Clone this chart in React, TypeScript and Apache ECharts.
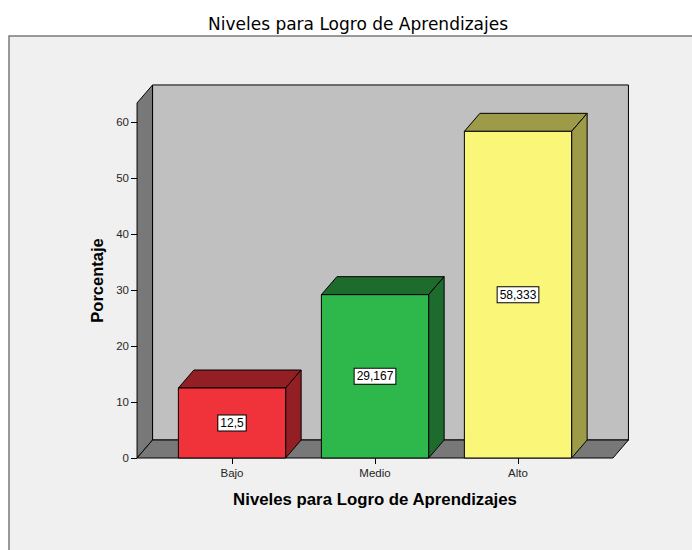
import React, { useEffect, useRef } from 'react';
import * as echarts from 'echarts';

const TITLE = 'Niveles para Logro de Aprendizajes';
const X_NAME = 'Niveles para Logro de Aprendizajes';
const Y_NAME = 'Porcentaje';
const CATEGORIES = ['Bajo', 'Medio', 'Alto'];
const PERCENTAGES = [12.5, 29.167, 58.333];
const Y_MIN = 0;
const Y_MAX = 60;
const Y_INTERVAL = 10;
const WALL_TOP_VALUE = 63.4;

const FRONT_COLORS = ['#f0323a', '#2eb84b', '#faf677'];
const SHADE_COLORS = ['#931f24', '#1d6b2d', '#9d9a48'];

const DX = 15.5;
const DY = -18;
const BAR_RATIO = 0.75;
const FLOOR_PAD_RATIO = 0.164;

const SANS = '"Liberation Sans", Arial, sans-serif';

export default function App() {
  const ref = useRef<HTMLDivElement>(null);
  useEffect(() => {
    if (!ref.current) return;
    const chart = echarts.init(ref.current, null, { renderer: 'svg' });
    const option: any = {
      animation: false,
      backgroundColor: '#ffffff',
      title: {
        text: TITLE,
        left: 203,
        top: 10,
        textStyle: { fontFamily: '"DejaVu Sans", sans-serif', fontSize: 17, fontWeight: 'normal', color: '#000' },
      },
      graphic: [
        {
          type: 'rect',
          z: -100,
          silent: true,
          shape: { x: 9, y: 36, width: 700, height: 530 },
          style: { fill: '#f0f0f0', stroke: '#7a7a7a', lineWidth: 1.5 },
        },
        {
          type: 'text',
          x: 97,
          y: 280.5,
          rotation: Math.PI / 2,
          style: {
            text: Y_NAME,
            align: 'center',
            verticalAlign: 'middle',
            font: 'bold 16.5px ' + SANS,
            fill: '#000',
          },
        },
      ],
      grid: { left: 160.5, right: 102.5, top: 122, bottom: 92, containLabel: false },
      xAxis: {
        type: 'category',
        data: CATEGORIES,
        axisLine: { show: false },
        axisTick: { show: true, alignWithLabel: true, length: 6, lineStyle: { color: '#000' } },
        axisLabel: { color: '#262626', fontSize: 11.5, fontFamily: SANS, margin: 9 },
        splitLine: { show: false },
        name: X_NAME,
        nameLocation: 'middle',
        nameGap: 33,
        nameTextStyle: { fontFamily: SANS, fontSize: 16.8, fontWeight: 'bold', color: '#000' },
      },
      yAxis: {
        type: 'value',
        min: Y_MIN,
        max: Y_MAX,
        interval: Y_INTERVAL,
        offset: 23.5,
        axisLine: { show: false },
        axisTick: { show: true, length: 6, lineStyle: { color: '#000' } },
        axisLabel: { color: '#262626', fontSize: 11.5, fontFamily: SANS, margin: 8 },
        splitLine: { show: false },
      },
      series: [
        {
          type: 'custom',
          name: 'walls',
          z: 1,
          clip: false,
          silent: true,
          data: [[0, 0]],
          renderItem: (params: any, api: any) => {
            const cs = params.coordSys;
            const band = api.size([1, 0])[0];
            const pad = band * FLOOR_PAD_RATIO;
            const left = cs.x - pad;
            const right = cs.x + cs.width + pad;
            const y0 = api.coord([0, 0])[1];
            const yTop = api.coord([0, WALL_TOP_VALUE])[1];
            const stroke = { stroke: '#000', lineWidth: 1 };
            return {
              type: 'group',
              children: [
                {
                  type: 'rect',
                  shape: { x: left + DX, y: yTop + DY, width: right - left, height: y0 - yTop },
                  style: { fill: '#c0c0c0', ...stroke },
                },
                {
                  type: 'polygon',
                  shape: { points: [[left, yTop], [left + DX, yTop + DY], [left + DX, y0 + DY], [left, y0]] },
                  style: { fill: '#787878', ...stroke },
                },
                {
                  type: 'polygon',
                  shape: { points: [[left, y0], [right, y0], [right + DX, y0 + DY], [left + DX, y0 + DY]] },
                  style: { fill: '#787878', ...stroke },
                },
              ],
            };
          },
        },
        {
          type: 'custom',
          name: 'Porcentaje',
          z: 3,
          clip: false,
          data: PERCENTAGES.map((v, i) => [i, v]),
          encode: { x: 0, y: 1 },
          renderItem: (params: any, api: any) => {
            const i = params.dataIndex;
            const xv = api.value(0);
            const v = api.value(1);
            const top = api.coord([xv, v]);
            const base = api.coord([xv, 0]);
            const w = api.size([1, 0])[0] * BAR_RATIO;
            const x0 = top[0] - w / 2;
            const x1 = top[0] + w / 2;
            const yT = top[1];
            const yB = base[1];
            const stroke = { stroke: '#000', lineWidth: 1 };
            return {
              type: 'group',
              children: [
                {
                  type: 'polygon',
                  shape: { points: [[x0, yT], [x1, yT], [x1 + DX, yT + DY], [x0 + DX, yT + DY]] },
                  style: { fill: SHADE_COLORS[i], ...stroke },
                },
                {
                  type: 'polygon',
                  shape: { points: [[x1, yT], [x1 + DX, yT + DY], [x1 + DX, yB + DY], [x1, yB]] },
                  style: { fill: SHADE_COLORS[i], ...stroke },
                },
                {
                  type: 'rect',
                  shape: { x: x0, y: yT, width: w, height: yB - yT },
                  style: { fill: FRONT_COLORS[i], ...stroke },
                },
                {
                  type: 'text',
                  x: top[0],
                  y: (yT + yB) / 2,
                  style: {
                    text: String(PERCENTAGES[i]).replace('.', ','),
                    align: 'center',
                    verticalAlign: 'middle',
                    font: '12px ' + SANS,
                    fill: '#000',
                    backgroundColor: '#fff',
                    borderColor: '#000',
                    borderWidth: 1,
                    padding: [2, 2, 1, 2],
                  },
                },
              ],
            };
          },
        },
      ],
    };
    chart.setOption(option);
    return () => chart.dispose();
  }, []);
  return (
    <div
      ref={ref}
      style={{ position: 'absolute', left: 0, top: 0, width: 692, height: 550 }}
    />
  );
}
